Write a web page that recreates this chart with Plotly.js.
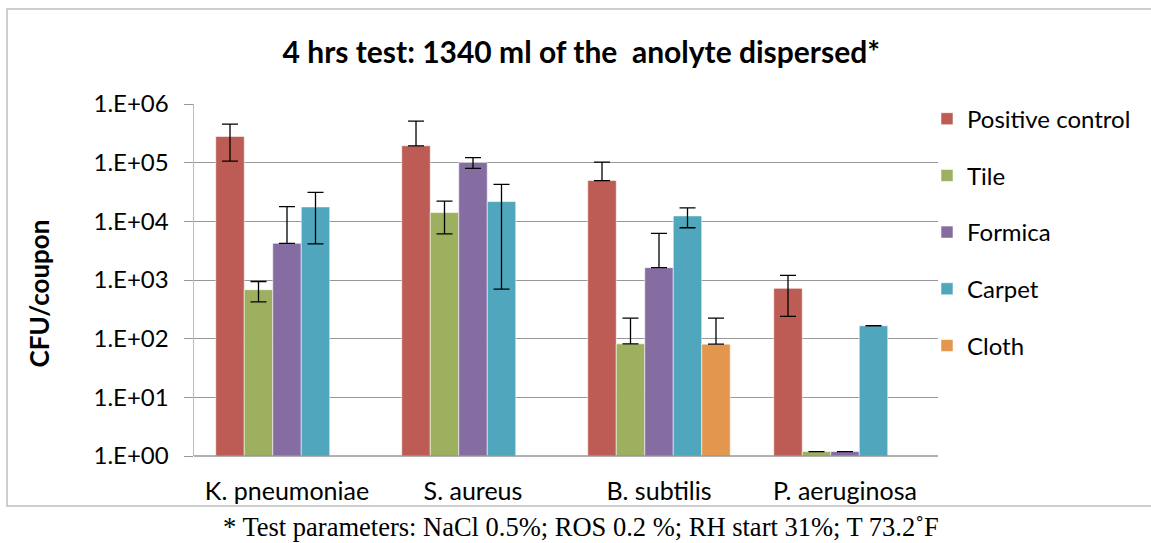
<!DOCTYPE html>
<html>
<head>
<meta charset="utf-8">
<script src="https://cdn.plot.ly/plotly-3.0.1.min.js"></script>
<style>html,body{margin:0;padding:0;background:#fff;}#chart{width:1151px;height:543px;}</style>
</head>
<body>
<div id="chart"></div>
<script>
const categories = ["K. pneumoniae", "S. aureus", "B. subtilis", "P. aeruginosa"];
const seriesNames = ["Positive control", "Tile", "Formica", "Carpet", "Cloth"];

const positiveControl = [280000, 194000, 49600, 720];
const tile = [683, 14100, 81.7, 1.19];
const formica = [4220, 100700, 1622, 1.19];
const carpet = [17620, 21700, 12370, 166];
const cloth = [null, null, 80.7, null];

const positiveControlErrPlus = [174000, 317000, 52400, 480];
const positiveControlErrMinus = [174000, 0, 0, 480];
const tileErrPlus = [260, 8000, 142, 0];
const tileErrMinus = [260, 8000, 0, 0];
const formicaErrPlus = [13640, 21000, 4630, 0];
const formicaErrMinus = [0, 21000, 0, 0];
const carpetErrPlus = [13500, 21000, 4600, 0];
const carpetErrMinus = [13500, 21000, 4600, 0];
const clothErrPlus = [null, null, 143, null];
const clothErrMinus = [null, null, 0, null];

const yTickVals = [1, 10, 100, 1000, 10000, 100000, 1000000];
const yTickText = ["1.E+00", "1.E+01", "1.E+02", "1.E+03", "1.E+04", "1.E+05", "1.E+06"];

const colors = ["#BC5C54", "#9CB060", "#856DA2", "#50A7BD", "#E3964E"];
const values = [positiveControl, tile, formica, carpet, cloth];
const errPlus = [positiveControlErrPlus, tileErrPlus, formicaErrPlus, carpetErrPlus, clothErrPlus];
const errMinus = [positiveControlErrMinus, tileErrMinus, formicaErrMinus, carpetErrMinus, clothErrMinus];

const FONT = "Lato, 'Liberation Sans', sans-serif";

const traces = seriesNames.map((name, i) => ({
  type: "bar",
  name: name,
  x: categories,
  y: values[i],
  legendgroup: "g" + i,
  marker: { color: colors[i], line: { color: "rgba(255,255,255,0.55)", width: 1 } },
  error_y: {
    type: "data",
    symmetric: false,
    array: errPlus[i],
    arrayminus: errMinus[i],
    color: "#000",
    thickness: 1.3,
    width: 8
  }
}));

const layout = {
  width: 1151,
  height: 543,
  margin: { l: 194, r: 213, t: 104, b: 87 },
  paper_bgcolor: "#fff",
  plot_bgcolor: "#fff",
  barmode: "group",
  bargap: 0.234,
  bargroupgap: 0,
  title: {
    text: "4 hrs test: 1340 ml of the  anolyte dispersed*",
    font: { family: FONT, size: 30, color: "#000", weight: "bold" },
    x: 0.505,
    xanchor: "center",
    y: 0.903,
    yanchor: "middle"
  },
  xaxis: {
    type: "category",
    showgrid: false,
    ticks: "",
    showline: false,
    tickfont: { family: FONT, size: 25, color: "#000" },
    ticklabelstandoff: 18
  },
  yaxis: {
    type: "log",
    range: [0, 6],
    tickvals: yTickVals,
    ticktext: yTickText,
    showgrid: true,
    gridcolor: "#979797",
    gridwidth: 1,
    showline: true,
    linecolor: "#BDBDBD",
    linewidth: 1.5,
    ticks: "outside",
    ticklen: 9,
    tickcolor: "#979797",
    tickfont: { family: FONT, size: 24, color: "#000" },
    ticklabelstandoff: 10,
    zeroline: false
  },
  legend: {
    x: (927 - 194) / 744,
    xanchor: "left",
    y: 1.021,
    yanchor: "top",
    font: { family: FONT, size: 24, color: "#000" },
    traceorder: "grouped",
    tracegroupgap: 22.5,
    bgcolor: "rgba(0,0,0,0)"
  },
  shapes: [
    {
      type: "line", xref: "paper", yref: "paper",
      x0: 0, x1: 1, y0: 0, y1: 0,
      line: { color: "#979797", width: 1.5 }
    },
    {
      type: "rect", xref: "paper", yref: "paper",
      x0: (7 - 194) / 744, x1: 1.3, y0: (456 - 506) / 352, y1: (456 - 9) / 352,
      line: { color: "#BFBFBF", width: 1.5 },
      layer: "below"
    }
  ],
  annotations: [
    {
      text: "<b>CFU/coupon</b>",
      xref: "paper", yref: "paper",
      x: (38 - 194) / 744, y: (456 - 293.5) / 352,
      xanchor: "center", yanchor: "middle",
      textangle: -90,
      showarrow: false,
      font: { family: FONT, size: 26, color: "#000" }
    },
    {
      text: "* Test parameters: NaCl 0.5%; ROS 0.2 %; RH start 31%; T 73.2˚F",
      xref: "paper", yref: "paper",
      x: (581 - 194) / 744, y: (456 - 527) / 352,
      xanchor: "center", yanchor: "middle",
      showarrow: false,
      font: { family: "'Liberation Serif', 'Times New Roman', serif", size: 26.5, color: "#000" }
    }
  ]
};

Plotly.newPlot("chart", traces, layout, { displayModeBar: false, staticPlot: true });
</script>
</body>
</html>
